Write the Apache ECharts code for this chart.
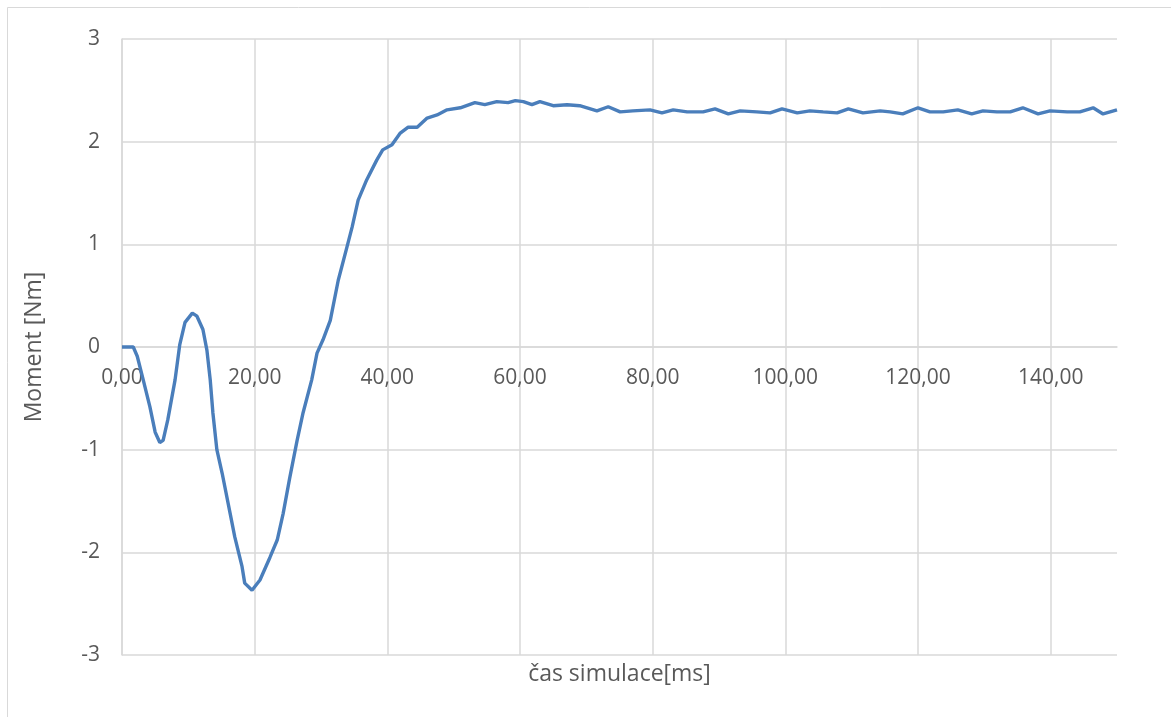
<!DOCTYPE html>
<html>
<head>
<meta charset="utf-8">
<script src="https://cdn.jsdelivr.net/npm/echarts@6/dist/echarts.min.js"></script>
<style>
  html, body { margin: 0; padding: 0; background: #ffffff; }
  #chart { width: 1171px; height: 717px; }
</style>
</head>
<body>
<div id="chart"></div>
<script>
// Simulation time [ms]
const timeMs = [
  0, 1.7, 2.3, 3.2, 4.2, 5.0, 5.7, 6.2, 6.9, 8.0,
  8.7, 9.5, 10.6, 11.3, 12.2, 12.8, 13.3, 13.7, 14.3, 15.1,
  16.3, 17.0, 18.1, 18.5, 19.6, 20.8, 22.3, 23.4, 24.3, 25.3,
  26.4, 27.3, 28.6, 29.4, 30.3, 31.4, 32.6, 33.9, 34.7, 35.6,
  36.9, 38.4, 39.3, 40.7, 41.9, 43.1, 44.5, 46.0, 47.5, 49.0,
  51.0, 53.2, 54.7, 56.5, 58.2, 59.3, 60.5, 61.8, 63.0, 65.0,
  67.1, 69.0, 71.6, 73.3, 75.1, 77.0, 79.6, 81.4, 83.1, 85.2,
  87.6, 89.4, 91.4, 93.2, 95.7, 97.7, 99.5, 101.8, 103.7, 105.7,
  107.8, 109.5, 111.7, 114.3, 115.8, 117.7, 120.0, 121.8, 123.8, 126.0,
  128.1, 129.8, 131.9, 133.9, 135.8, 138.1, 139.9, 142.5, 144.4, 146.4,
  147.9, 150.0
];

// Torque [Nm]
const momentNm = [
  0, 0.0, -0.09, -0.32, -0.58, -0.83, -0.93, -0.91, -0.71, -0.32,
  0.02, 0.24, 0.33, 0.30, 0.17, -0.03, -0.32, -0.64, -1.00, -1.23,
  -1.62, -1.85, -2.14, -2.30, -2.37, -2.27, -2.05, -1.88, -1.62, -1.27,
  -0.91, -0.64, -0.32, -0.06, 0.07, 0.26, 0.65, 0.97, 1.17, 1.43,
  1.63, 1.82, 1.92, 1.97, 2.08, 2.14, 2.14, 2.23, 2.26, 2.31,
  2.33, 2.38, 2.36, 2.39, 2.38, 2.40, 2.39, 2.36, 2.39, 2.35,
  2.36, 2.35, 2.30, 2.34, 2.29, 2.30, 2.31, 2.28, 2.31, 2.29,
  2.29, 2.32, 2.27, 2.30, 2.29, 2.28, 2.32, 2.28, 2.30, 2.29,
  2.28, 2.32, 2.28, 2.30, 2.29, 2.27, 2.33, 2.29, 2.29, 2.31,
  2.27, 2.30, 2.29, 2.29, 2.33, 2.27, 2.30, 2.29, 2.29, 2.33,
  2.27, 2.31
];

const xTitle = 'čas simulace[ms]';
const yTitle = 'Moment [Nm]';

const X_MIN = 0, X_MAX = 150, X_STEP = 20;
const Y_MIN = -3, Y_MAX = 3, Y_STEP = 1;

const points = timeMs.map((t, i) => [t, momentNm[i]]);

const gridColor = '#d9d9d9';
const textColor = '#595959';
const fontFamily = '"Open Sans", "Noto Sans", sans-serif';

const GRID = { left: 122, right: 54, top: 39, bottom: 62 };
const plotHeight = 717 - GRID.top - GRID.bottom;
// the time axis crosses the torque axis at zero
const zeroOffset = -plotHeight * (0 - Y_MIN) / (Y_MAX - Y_MIN);

const chart = echarts.init(document.getElementById('chart'), null, { renderer: 'canvas' });

chart.setOption({
  backgroundColor: '#ffffff',
  animation: false,
  graphic: [{
    type: 'rect',
    shape: { x: 7.5, y: 7.5, width: 1200, height: 800 },
    style: { fill: 'none', stroke: gridColor, lineWidth: 1 },
    silent: true
  }],
  grid: Object.assign({ containLabel: false }, GRID),
  xAxis: [{
    // tick labels on the zero line
    type: 'value',
    min: X_MIN,
    max: X_MAX,
    interval: X_STEP,
    position: 'bottom',
    offset: zeroOffset,
    axisLine: { show: true, onZero: false, lineStyle: { color: gridColor, width: 1.5 } },
    axisTick: { show: false },
    axisLabel: {
      color: textColor,
      fontSize: 21,
      fontFamily: fontFamily,
      margin: 21,
      showMaxLabel: false,
      formatter: v => (v === X_MAX ? '' : v.toFixed(2).replace('.', ','))
    },
    splitLine: { show: true, showMaxLine: false, lineStyle: { color: gridColor, width: 1.5 } }
  }, {
    // axis title under the plot
    type: 'value',
    min: X_MIN,
    max: X_MAX,
    interval: X_STEP,
    position: 'bottom',
    name: xTitle,
    nameLocation: 'middle',
    nameGap: 8,
    nameTextStyle: { color: textColor, fontSize: 23, fontFamily: fontFamily, verticalAlign: 'top' },
    axisLine: { show: false, onZero: false },
    axisTick: { show: false },
    axisLabel: { show: false },
    splitLine: { show: false }
  }],
  yAxis: {
    type: 'value',
    min: Y_MIN,
    max: Y_MAX,
    interval: Y_STEP,
    name: yTitle,
    nameLocation: 'middle',
    nameGap: 76,
    nameRotate: 90,
    nameTextStyle: { color: textColor, fontSize: 23, fontFamily: fontFamily },
    axisLine: { show: true, onZero: false, lineStyle: { color: gridColor, width: 1.5 } },
    axisTick: { show: false },
    axisLabel: {
      color: textColor,
      fontSize: 21,
      fontFamily: fontFamily,
      margin: 22
    },
    splitLine: { show: true, lineStyle: { color: gridColor, width: 1.5 } }
  },
  series: [{
    type: 'line',
    xAxisIndex: 0,
    data: points,
    showSymbol: false,
    symbol: 'none',
    smooth: false,
    clip: true,
    lineStyle: { color: '#4a7ebb', width: 3.4 },
    itemStyle: { color: '#4a7ebb' }
  }]
});
</script>
</body>
</html>
